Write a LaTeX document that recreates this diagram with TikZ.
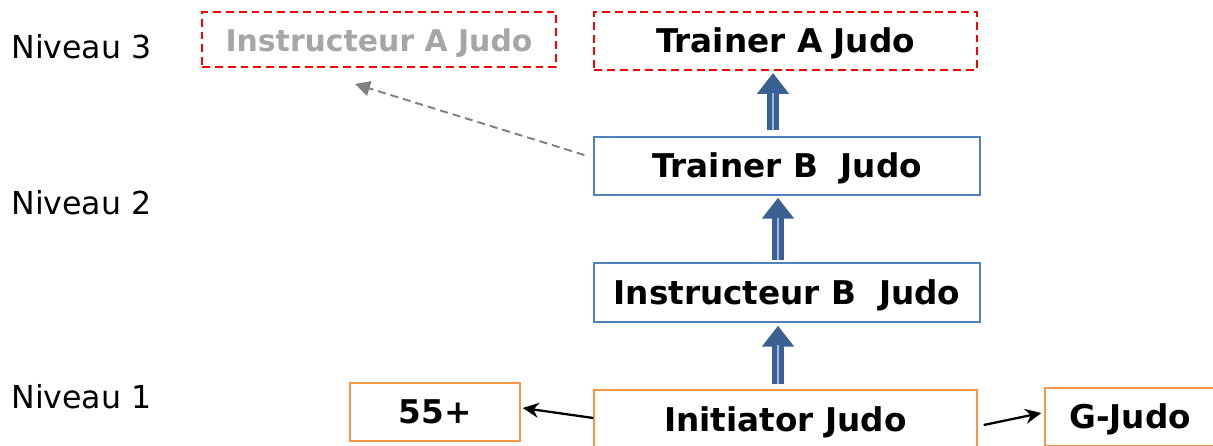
\documentclass[tikz,border=0pt]{standalone}
\usepackage{fontspec}
\setmainfont{DejaVu Sans}
\usepackage{xcolor}
\usetikzlibrary{arrows.meta, positioning}

\definecolor{boxred}{HTML}{FF0000}
\definecolor{boxblue}{HTML}{4F81BD}
\definecolor{boxorange}{HTML}{F79646}
\definecolor{arrowblue}{HTML}{3B6194}
\definecolor{arrowlight}{HTML}{9BB7DE}
\definecolor{textgrey}{HTML}{A6A6A6}
\definecolor{dashgrey}{HTML}{808080}

\begin{document}
\begin{tikzpicture}[
        x=0.02cm, y=-0.02cm,
        % Estilo general para los bloques
        blockbox/.style={
            rectangle,
            line width=0.8pt,
            fill=white,
            font=\fontsize{18.6}{21}\selectfont\bfseries,
            text height=13.2pt,
            text depth=0pt,
            align=center,
            inner sep=0pt
        },
        % Bloques de nivel 3 (discontinuos)
        redbox/.style={
            blockbox,
            draw=boxred,
            line width=1.1pt,
            dash pattern=on 4.5pt off 2.8pt
        },
        % Bloques de nivel 2
        bluebox/.style={blockbox, draw=boxblue},
        % Bloques de nivel 1
        orangebox/.style={blockbox, draw=boxorange},
        % Etiquetas de nivel
        niveau/.style={
            font=\fontsize{18}{21}\selectfont,
            anchor=west,
            inner sep=0pt
        },
        % Flechas gruesas entre niveles
        levelarrow/.style={
            draw=arrowblue,
            line width=0.24cm,
            -{Triangle[width=0.62cm, length=0.42cm]},
            postaction={draw=arrowlight, line width=0.6pt, -, shorten >=0.44cm}
        },
        % Flechas finas
        thinarrow/.style={
            draw=black,
            line width=1.3pt,
            -{Stealth[width=0.3cm, length=0.32cm]}
        },
        % Flecha discontinua
        dasharrow/.style={
            draw=dashgrey,
            line width=1.1pt,
            dash pattern=on 0.16cm off 0.1cm,
            -{Triangle[width=0.3cm, length=0.3cm]}
        }
    ]

        \useasboundingbox (0,0) rectangle (1213,446);

        % Etiquetas de nivel
        \node[niveau] (niv3) at (11, 47) {Niveau 3};
        \node[niveau] (niv2) at (11, 203) {Niveau 2};
        \node[niveau] (niv1) at (11, 397) {Niveau 1};

        % Nodos alineados por coordenadas
        \node[redbox, text=textgrey, font=\fontsize{17}{20}\selectfont\bfseries, minimum width=7.08cm, minimum height=1.1cm] (instA) at (379, 39.5) {Instructeur A Judo};

        \node[redbox, minimum width=7.66cm, minimum height=1.16cm] (trainA) at (785.5, 41) {Trainer A Judo};

        \node[bluebox, minimum width=7.72cm, minimum height=1.16cm] (trainB) at (787, 166) {Trainer B\ \ Judo};

        \node[bluebox, minimum width=7.72cm, minimum height=1.18cm] (instB) at (787, 292.5) {Instructeur B\ \ Judo};

        \node[orangebox, minimum width=7.66cm, minimum height=1.2cm] (init) at (785.5, 420) {Initiator Judo};

        \node[orangebox, minimum width=3.4cm, minimum height=1.16cm] (p55) at (435, 412) {55+};

        \node[orangebox, minimum width=3.4cm, minimum height=1.16cm] (gjudo) at (1130, 417) {G-Judo};

        \coordinate (dashEnd) at (355, 84);

        % --- CONEXIONES ---

        % 1. Nivel 1 -> Nivel 2 -> Nivel 3
        \draw[levelarrow, shorten <=0.1cm, shorten >=0.06cm] ([xshift=-0.15cm]init.north) -- ([xshift=-0.15cm]init.north |- instB.south);
        \draw[levelarrow, shorten <=0.04cm, shorten >=0.04cm] ([xshift=-0.18cm]instB.north) -- ([xshift=-0.18cm]instB.north |- trainB.south);
        \draw[levelarrow, shorten <=0.12cm, shorten >=0.04cm] ([xshift=-0.28cm]trainB.north) -- ([xshift=-0.28cm]trainB.north |- trainA.south);

        % 2. Trainer B -> Instructeur A (discontinua)
        \draw[dasharrow] ([xshift=-0.18cm, yshift=0.22cm]trainB.west) -- (dashEnd);

        % 3. Initiator -> 55+ y G-Judo
        \draw[thinarrow] ([yshift=0.04cm]init.west) -- ([xshift=0.04cm, yshift=0.08cm]p55.east);
        \draw[thinarrow] ([xshift=0.12cm, yshift=-0.1cm]init.east) -- ([xshift=-0.06cm, yshift=0.08cm]gjudo.west);

    \end{tikzpicture}
\end{document}
